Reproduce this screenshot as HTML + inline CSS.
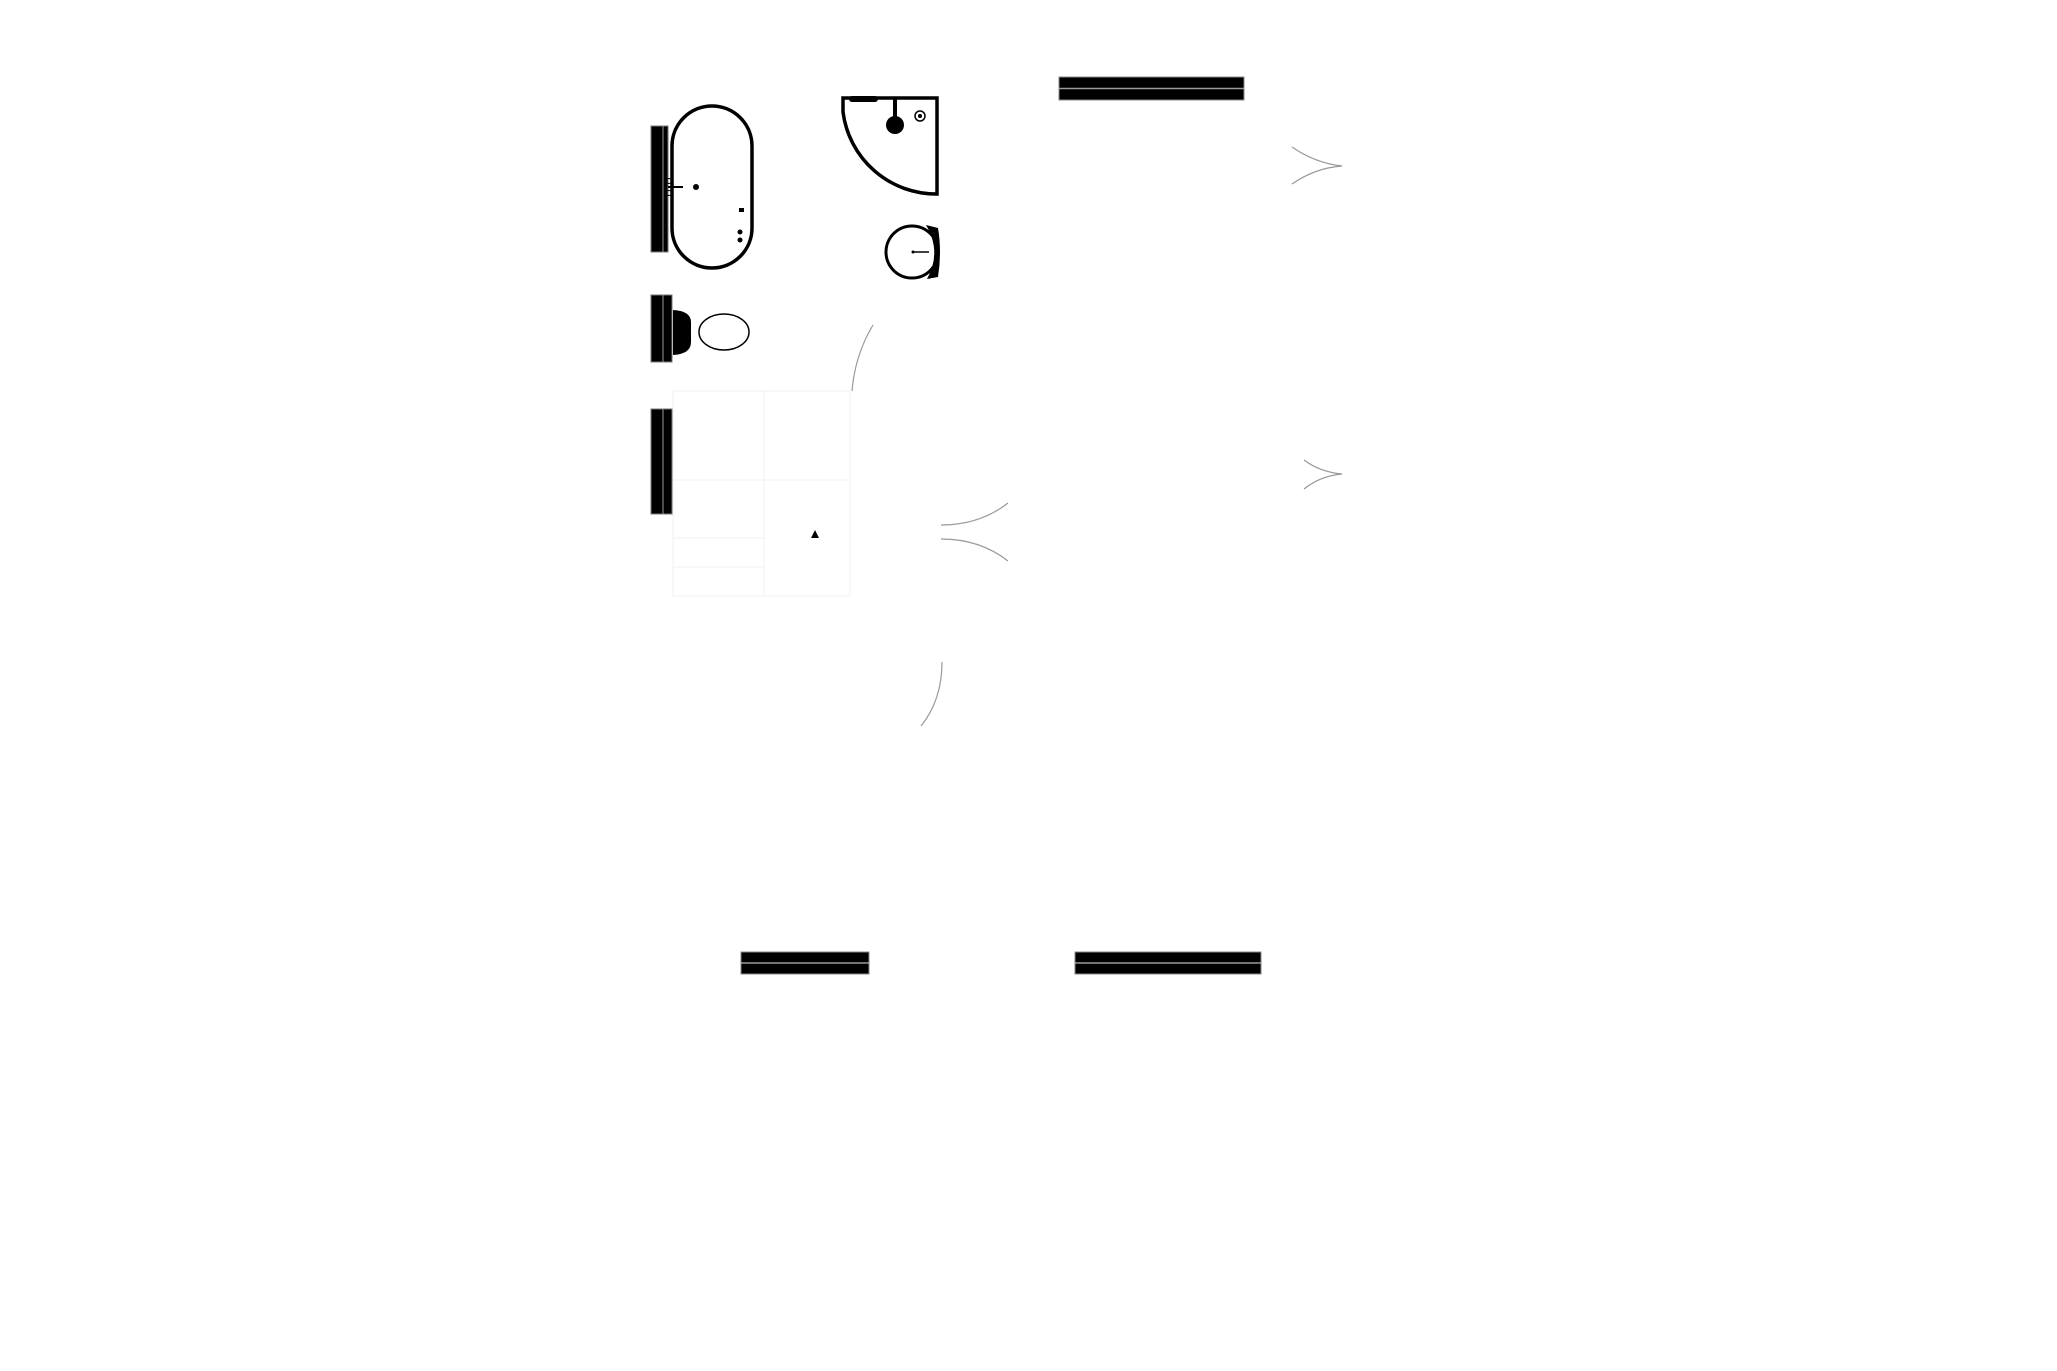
<!DOCTYPE html>
<html><head><meta charset="utf-8"><style>html,body{margin:0;padding:0;background:#fff}svg{display:block}</style></head>
<body>
<svg width="2057" height="1371" viewBox="0 0 2057 1371" xmlns="http://www.w3.org/2000/svg">
<rect width="2057" height="1371" fill="#fff"/>
<g stroke="#888" stroke-width="1">
<rect x="1059" y="77" width="185" height="23" fill="#000"/>
<rect x="741" y="952" width="128" height="22" fill="#000"/>
<rect x="1075" y="952" width="186" height="22" fill="#000"/>
</g>
<line x1="1059" y1="88.5" x2="1244" y2="88.5" stroke="#999" stroke-width="1.5"/>
<line x1="741" y1="963" x2="869" y2="963" stroke="#999" stroke-width="1.5"/>
<line x1="1075" y1="963" x2="1261" y2="963" stroke="#999" stroke-width="1.5"/>
<rect x="651" y="126" width="17" height="126" fill="#000" stroke="#777"/>
<line x1="663" y1="126" x2="663" y2="252" stroke="#999"/>
<rect x="651" y="295" width="21" height="67" fill="#000" stroke="#777"/>
<line x1="663" y1="295" x2="663" y2="362" stroke="#999"/>
<rect x="651" y="409" width="21" height="105" fill="#000" stroke="#777"/>
<line x1="663" y1="409" x2="663" y2="514" stroke="#999"/>
<!-- bath -->
<rect x="672" y="106" width="80" height="162" rx="40" ry="40" fill="none" stroke="#000" stroke-width="3.5"/>
<line x1="668" y1="187" x2="683" y2="187" stroke="#000" stroke-width="2"/>
<circle cx="669" cy="181" r="2.5" fill="none" stroke="#000"/>
<circle cx="669" cy="193" r="2.5" fill="none" stroke="#000"/>
<circle cx="696" cy="187" r="3" fill="#000"/>
<rect x="739" y="208" width="5" height="4" fill="#000"/>
<circle cx="740" cy="232" r="2.5" fill="#000"/>
<circle cx="740" cy="240" r="2.5" fill="#000"/>
<!-- shower -->
<path d="M843 98 L843 112 A94 94 0 0 0 937 194 L937 98 Z" fill="none" stroke="#000" stroke-width="3.5"/>
<rect x="849" y="96" width="29" height="6" rx="3" fill="#000"/>
<line x1="895" y1="98" x2="895" y2="118" stroke="#000" stroke-width="4"/>
<circle cx="895" cy="125" r="9" fill="#000"/>
<circle cx="920" cy="116" r="5" fill="none" stroke="#000" stroke-width="1.5"/>
<circle cx="920" cy="116" r="2" fill="#000"/>
<!-- sink -->
<circle cx="912" cy="252" r="26" fill="none" stroke="#000" stroke-width="3"/>
<path d="M926 225 Q942 252 927 279 L938 277 Q942 252 938 228 Z" fill="#000"/>
<circle cx="913" cy="252" r="1.5" fill="#000"/>
<line x1="914" y1="252" x2="929" y2="252" stroke="#000" stroke-width="1.5"/>
<!-- toilet -->
<path d="M673 310 Q691 311 691 322 L691 342 Q691 354 673 355 Z" fill="#000"/>
<ellipse cx="724" cy="332" rx="25" ry="18" fill="none" stroke="#000" stroke-width="1.5"/>
<g fill="none" stroke="#999" stroke-width="1.2">
<path d="M873 325 Q855 355 852 391"/>
<path d="M941 525 Q980 525 1008 503"/>
<path d="M941 539 Q980 539 1008 561"/>
<path d="M942 662 Q942 700 921 726"/>
<path d="M1292 147 Q1315 163 1342 166"/>
<path d="M1292 184 Q1315 168 1342 166"/>
<path d="M1304 460 Q1320 472 1342 474"/>
<path d="M1304 489 Q1320 476 1342 474"/>
</g>
<g fill="none" stroke="#f2f2f2" stroke-width="1">
<rect x="673" y="391" width="177" height="205"/>
<line x1="764" y1="391" x2="764" y2="596"/>
<line x1="673" y1="480" x2="850" y2="480"/>
<line x1="673" y1="538" x2="764" y2="538"/>
<line x1="673" y1="567" x2="764" y2="567"/>
</g>
<polygon points="811,538 815,530 819,538" fill="#000"/>
</svg>
</body></html>
